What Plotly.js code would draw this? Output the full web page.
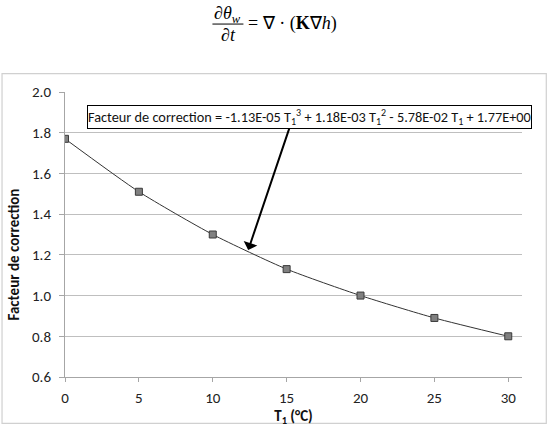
<!DOCTYPE html>
<html>
<head>
<meta charset="utf-8">
<script src="https://cdn.plot.ly/plotly-3.0.1.min.js"></script>
<style>
html,body{margin:0;padding:0;background:#fff;}
#chart{width:555px;height:430px;}
</style>
</head>
<body>
<div id="chart"></div>
<script>
// Data
const T1 = [0, 5, 10, 15, 20, 25, 30];
const facteur = [1.77, 1.51, 1.30, 1.13, 1.00, 0.89, 0.80];
const xTicks = [0, 5, 10, 15, 20, 25, 30];
const yTicks = [0.6, 0.8, 1.0, 1.2, 1.4, 1.6, 1.8, 2.0];
const yTickLabels = ['0.6', '0.8', '1.0', '1.2', '1.4', '1.6', '1.8', '2.0'];
const equationText = 'Facteur de correction = -1.13E-05 T<sub>1</sub><sup>3</sup> + 1.18E-03 T<sub>1</sub><sup>2</sup> - 5.78E-02 T<sub>1</sub> + 1.77E+00';
const arrowTip = {x: 12.4, y: 1.2235};

const font = 'Calibri, Carlito, "Liberation Sans", Arial, sans-serif';
const serif = '"Liberation Serif", "Times New Roman", serif';

const trace = {
  x: T1, y: facteur, type: 'scatter', mode: 'lines+markers',
  line: {color: '#333333', width: 1, shape: 'spline', smoothing: 0.6},
  marker: {symbol: 'square', size: 7, color: '#808080', line: {color: '#3a3a3a', width: 1}},
  hoverinfo: 'x+y', showlegend: false
};

// plot area in pixels: left 64.5, right 521.7, top 92.3, bottom 376.7
const L = 64.5, R = 521.7, Tp = 92.3, B = 376.7;
const px = v => (v - L) / (R - L);
const py = v => (B - v) / (B - Tp);

const layout = {
  width: 555, height: 430,
  margin: {l: L, r: 555 - R, t: Tp, b: 430 - B, pad: 0},
  paper_bgcolor: '#ffffff', plot_bgcolor: '#ffffff',
  font: {family: font, size: 15, color: '#222222'},
  xaxis: {
    range: [0, 30.93], tickvals: xTicks, ticktext: xTicks.map(String),
    showgrid: false, zeroline: false, showline: true, linecolor: '#a6a6a6', linewidth: 1,
    ticks: 'outside', ticklen: 4, tickcolor: '#a6a6a6', tickfont: {size: 15, color: '#222'},
    ticklabelstandoff: 3,
    title: {text: '<b>T<sub>1</sub> (°C)</b>', font: {size: 15, color: '#111'}, standoff: 1}
  },
  yaxis: {
    range: [0.6, 2.0], tickvals: yTicks, ticktext: yTickLabels,
    showgrid: true, gridcolor: '#bfbfbf', gridwidth: 1, zeroline: false,
    showline: true, linecolor: '#a6a6a6', linewidth: 1,
    ticks: 'outside', ticklen: 5, tickcolor: '#a6a6a6', tickfont: {size: 15, color: '#222'},
    ticklabelstandoff: 5
  },
  shapes: [
    {type: 'rect', xref: 'paper', yref: 'paper', x0: px(1.5), x1: px(546), y0: py(423), y1: py(74),
     line: {color: '#d0d0d0', width: 1.2}, fillcolor: 'rgba(0,0,0,0)', layer: 'below'},
    // fraction bar of the equation
    {type: 'line', xref: 'paper', yref: 'paper', x0: px(212), x1: px(243), y0: py(24.5), y1: py(24.5),
     line: {color: '#000', width: 1}}
  ],
  annotations: [
    {xref: 'paper', yref: 'paper', x: px(14), y: py(255), text: '<b>Facteur de correction</b>',
     textangle: -90, showarrow: false, font: {size: 15, color: '#111'}, xanchor: 'center', yanchor: 'middle'},
    {xref: 'paper', yref: 'paper', x: px(309), y: py(117), text: equationText, showarrow: false,
     bordercolor: '#000', borderwidth: 1, borderpad: 0, bgcolor: '#fff',
     font: {size: 14.3, color: '#111'}, xanchor: 'center', yanchor: 'middle'},
    {x: arrowTip.x, y: arrowTip.y, xref: 'x', yref: 'y', text: '', showarrow: true,
     ax: 289.5 - 248, ay: 127 - 250, arrowhead: 1, arrowsize: 1.2, arrowwidth: 2, arrowcolor: '#000'},
    // equation at the top
    {xref: 'paper', yref: 'paper', x: px(227.5), y: py(15), text: '<i>∂θ<sub>w</sub></i>', showarrow: false,
     font: {family: serif, size: 18, color: '#000'}, xanchor: 'center', yanchor: 'middle'},
    {xref: 'paper', yref: 'paper', x: px(228), y: py(35), text: '<i>∂t</i>', showarrow: false,
     font: {family: serif, size: 18, color: '#000'}, xanchor: 'center', yanchor: 'middle'},
    {xref: 'paper', yref: 'paper', x: px(246), y: py(23.5), text: '= ∇ · (<b>K</b>∇<i>h</i>)', showarrow: false,
     font: {family: serif, size: 18, color: '#000'}, xanchor: 'left', yanchor: 'middle'}
  ]
};

Plotly.newPlot('chart', [trace], layout, {displayModeBar: false, staticPlot: true});
</script>
</body>
</html>
